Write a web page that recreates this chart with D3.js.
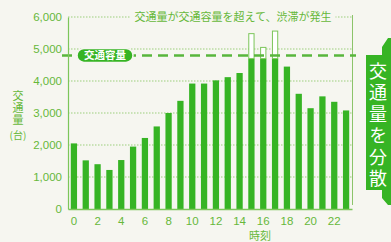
<!doctype html>
<html lang="ja">
  <head>
    <meta charset="utf-8">
    <title>時刻別交通量</title>
    <script src="https://cdn.jsdelivr.net/npm/d3@7"></script>
    <style>
      body { margin: 0; background: #f6f6f0; }
      svg { display: block; font-family: "Noto Sans CJK JP", "Noto Sans", sans-serif; }
      .tick text { fill: #66b83a; font-size: 11.5px; }
      .vert { writing-mode: vertical-rl; }
    </style>
  </head>
  <body>
    <script>

      // hourly traffic volume (vehicles)
      var hours = d3.range(0, 24);
      var volume = [2050, 1520, 1400, 1220, 1530, 1950, 2220, 2580, 3000, 3380, 3920, 3920,
                    4020, 4120, 4250, 5480, 5050, 5560, 4450, 3600, 3150, 3520, 3350, 3080];
      var capacity = 4800;     // dashed line
      var flowCap = 4700;      // green part stops here when over capacity
      var yTicks = [0, 1000, 2000, 3000, 4000, 5000, 6000];
      var xTicks = [0, 2, 4, 6, 8, 10, 12, 14, 16, 18, 20, 22];

      var green = "#36b424",
          textGreen = "#66b83a",
          lineGreen = "#58b63c",
          bg = "#f6f6f0";

      var width = 391, height = 242;
      var plot = {left: 68, right: 352, top: 17, bottom: 209};

      var svg = d3.select("body").append("svg")
          .attr("width", width)
          .attr("height", height);

      var x = d3.scaleBand()
          .domain(hours)
          .range([plot.left, plot.right])
          .paddingInner(0.47)
          .paddingOuter(0.235);

      var y = d3.scaleLinear()
          .domain([0, 6000])
          .range([plot.bottom, plot.top]);

      // dotted grid
      svg.append("g").selectAll("line")
          .data(yTicks.filter(function(d){ return d > 0; }))
        .enter().append("line")
          .attr("x1", plot.left).attr("x2", plot.right)
          .attr("y1", function(d){ return y(d); })
          .attr("y2", function(d){ return y(d); })
          .attr("stroke", "#9ccf7c")
          .attr("stroke-width", 1)
          .attr("stroke-dasharray", "1.5,1.5");

      // right border
      svg.append("line")
          .attr("x1", plot.right + 0.5).attr("x2", plot.right + 0.5)
          .attr("y1", plot.top - 2).attr("y2", plot.bottom - 4)
          .attr("stroke", "#8cc46a")
          .attr("stroke-width", 1);

      // green bars
      svg.append("g").selectAll("rect")
          .data(hours)
        .enter().append("rect")
          .attr("x", function(d){ return x(d); })
          .attr("width", x.bandwidth())
          .attr("y", function(d){ return y(Math.min(volume[d], flowCap)); })
          .attr("height", function(d){ return y(0) - y(Math.min(volume[d], flowCap)); })
          .attr("fill", green);

      // overflow part (white, outlined)
      svg.append("g").selectAll("rect")
          .data(hours.filter(function(d){ return volume[d] > capacity; }))
        .enter().append("rect")
          .attr("x", function(d){ return x(d) + 0.5; })
          .attr("width", x.bandwidth() - 1)
          .attr("y", function(d){ return y(volume[d]); })
          .attr("height", function(d){ return y(flowCap) - y(volume[d]); })
          .attr("fill", "#ffffff")
          .attr("stroke", "#7cc65a")
          .attr("stroke-width", 1);

      // capacity line
      svg.append("line")
          .attr("x1", plot.left - 6).attr("x2", plot.right + 4)
          .attr("y1", y(capacity)).attr("y2", y(capacity))
          .attr("stroke", lineGreen)
          .attr("stroke-width", 2.5)
          .attr("stroke-dasharray", "10,6");

      var pill = svg.append("g").attr("transform", "translate(77," + y(capacity) + ")");
      pill.append("rect")
          .attr("x", 0).attr("y", -7)
          .attr("width", 56).attr("height", 14)
          .attr("rx", 7)
          .attr("fill", green)
          .attr("stroke", bg).attr("stroke-width", 1.5);
      pill.append("text")
          .attr("x", 28).attr("y", 4)
          .attr("text-anchor", "middle")
          .attr("fill", "#fff")
          .attr("font-size", 10.5)
          .attr("font-weight", "bold")
          .text("交通容量");

      // axes
      var yAxis = svg.append("g")
          .attr("transform", "translate(" + plot.left + ",0)")
          .call(d3.axisLeft(y).tickValues(yTicks).tickSize(0).tickPadding(6).tickFormat(d3.format(",")));
      yAxis.select(".domain").attr("stroke", "#7cc65a").attr("stroke-width", 1.2);

      var xAxis = svg.append("g")
          .attr("transform", "translate(0," + plot.bottom + ")")
          .call(d3.axisBottom(x).tickValues(xTicks).tickSize(0).tickPadding(8));
      xAxis.select(".domain").attr("stroke", "#7cc65a").attr("stroke-width", 1.5);

      svg.append("text")
          .attr("x", x(16)).attr("y", 240)
          .attr("text-anchor", "middle")
          .attr("fill", textGreen)
          .attr("font-size", 11)
          .text("時刻");

      // y title, vertical
      svg.append("text")
          .attr("class", "vert")
          .attr("x", 18).attr("y", 90)
          .attr("fill", textGreen)
          .attr("font-size", 11)
          .attr("letter-spacing", 1)
          .text("交通量");
      svg.append("text")
          .attr("x", 18).attr("y", 139)
          .attr("text-anchor", "middle")
          .attr("fill", textGreen)
          .attr("font-size", 10)
          .text("(台)");

      // congestion note over the top gridline
      var noteBg = svg.append("rect").attr("fill", bg);
      var note = svg.append("text")
          .attr("x", 233).attr("y", y(6000) + 4)
          .attr("text-anchor", "middle")
          .attr("fill", textGreen)
          .attr("font-size", 11)
          .text("交通量が交通容量を超えて、渋滞が発生");
      var bb = note.node().getBBox();
      noteBg.attr("x", bb.x - 4).attr("y", bb.y)
          .attr("width", bb.width + 8).attr("height", bb.height);

      // right callout
      svg.append("path")
          .attr("d", "M366,55 L382,55 L382,47 L388,38 L391,38 L391,205 L388,205 L382,198 L382,190 L366,190 Z")
          .attr("fill", green);
      svg.append("text")
          .attr("class", "vert")
          .attr("x", 378).attr("y", 62)
          .attr("fill", "#fff")
          .attr("font-size", 18)
          .attr("letter-spacing", 3.5)
          .text("交通量を分散");

    </script>
  </body>
</html>
